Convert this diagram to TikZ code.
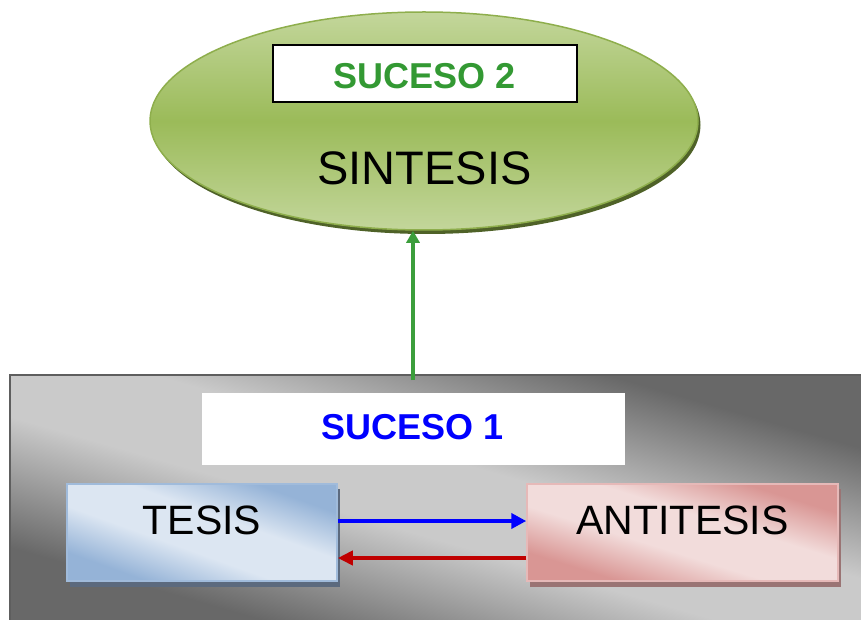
\documentclass[tikz,border=0pt]{standalone}
\usepackage{fontspec}
\setmainfont{Liberation Sans}
\usetikzlibrary{shapes.geometric,arrows.meta}
\definecolor{gdark}{HTML}{686868}
\definecolor{glight}{HTML}{CACACA}
\definecolor{eltop}{HTML}{C3D69B}
\definecolor{elmid}{HTML}{9BBB59}
\definecolor{elline}{HTML}{8EAE4C}
\definecolor{elshadow}{HTML}{4F6228}
\definecolor{bdark}{HTML}{95B3D7}
\definecolor{blight}{HTML}{DCE6F2}
\definecolor{bshadow}{HTML}{5C6A7E}
\definecolor{rdark}{HTML}{D99694}
\definecolor{rlight}{HTML}{F2DCDB}
\definecolor{rline}{HTML}{E6B9B8}
\definecolor{rshadow}{HTML}{9A7474}
\definecolor{sgreen}{HTML}{339933}
\definecolor{agreen}{HTML}{3C9E3C}
\definecolor{ared}{HTML}{C00000}
\pgfdeclareverticalshading{panelshade}{100bp}{color(0bp)=(gdark); color(25bp)=(gdark); color(44bp)=(glight); color(56bp)=(glight); color(75bp)=(gdark); color(100bp)=(gdark)}
\pgfdeclareverticalshading{blueshade}{100bp}{color(0bp)=(bdark); color(25bp)=(bdark); color(42bp)=(blight); color(58bp)=(blight); color(75bp)=(bdark); color(100bp)=(bdark)}
\pgfdeclareverticalshading{redshade}{100bp}{color(0bp)=(rdark); color(25bp)=(rdark); color(42bp)=(rlight); color(58bp)=(rlight); color(75bp)=(rdark); color(100bp)=(rdark)}
% #1 x, #2 y (top-left), #3 width, #4 height, #5 shading name
\newcommand\mydiagshade[5]{%
  \begin{scope}[transform canvas={shift={(#1,#2)}, xscale=#3/#4}]
    \shade[shading=#5, shading angle=-45] (0,0) rectangle (#4,#4);
  \end{scope}}
\begin{document}
\begin{tikzpicture}[x=1pt,y=-1pt,
  panel/.style={rectangle, inner sep=0pt, draw=gdark!90!black, line width=2pt},
  ellipsebox/.style={ellipse, inner sep=0pt, draw=elline, line width=1.5pt,
    top color=eltop, bottom color=eltop, middle color=elmid},
  whitebox/.style={rectangle, inner sep=0pt, fill=white},
  tbox/.style={rectangle, inner sep=0pt, line width=1.5pt, draw=bdark!90!white},
  abox/.style={rectangle, inner sep=0pt, line width=1.5pt, draw=rline},
  bigtxt/.style={font=\fontsize{47}{50}\selectfont, text=black, inner sep=0pt},
  boxtxt/.style={font=\fontsize{41}{44}\selectfont, text=black, inner sep=0pt},
  evtxt/.style={font=\fontsize{36}{40}\selectfont\bfseries, inner sep=0pt},
  arr/.style={line width=4pt, -{Triangle[length=15pt,width=15pt]}},
]
\useasboundingbox (0,0) rectangle (861,620);
\clip (0,0) rectangle (861,620);

% gray panel (suceso 1)
\mydiagshade{10}{375}{851}{245}{panelshade}
\node[panel, minimum width=861, minimum height=250] (panel) at (440.5,500) {};
\node[whitebox, minimum width=423, minimum height=72] (s1box) at (413.5,429) {};
\node[evtxt, text=blue] (s1txt) at (412.5,427) {SUCESO 1};

% shadows
\fill[bshadow] (70,489) rectangle (340,587);
\fill[rshadow] (530,489) rectangle (841,587);

\mydiagshade{67}{484}{270}{97}{blueshade}
\node[tbox, minimum width=270, minimum height=97] (tesis) at (202,532.5) {};
\node[boxtxt] (tesistxt) at (202,520) {TESIS};
\mydiagshade{527}{484}{311}{97}{redshade}
\node[abox, minimum width=311, minimum height=97] (anti) at (682.5,532.5) {};
\node[boxtxt] (antitxt) at (682.5,520) {ANTITESIS};

\draw[arr, blue] ([yshift=11.5pt]tesis.east) -- ([yshift=11.5pt]anti.west);
\draw[arr, ared, -{Triangle[length=15pt,width=14pt]}] ([yshift=-25.5pt]anti.west) -- ([yshift=-25.5pt]tesis.east);

% ellipse (suceso 2)
\fill[elshadow] (426.5,125) ellipse [x radius=274, y radius=109];
\node[ellipsebox, minimum width=548, minimum height=218] (sintesis) at (424,121) {};
\node[whitebox, draw=black, line width=1.2pt, minimum width=304, minimum height=57] (s2box) at (425,73.5) {};
\node[evtxt, text=sgreen] (s2txt) at (425,76) {SUCESO 2};
\node[bigtxt] (sintxt) at (424.5,168) {SINTESIS};

\coordinate (s1top) at (413,380);
\draw[line width=3.5pt, agreen, -{Triangle[length=12pt,width=13pt]}] (s1top) -- (s1top |- sintesis.south);
\end{tikzpicture}
\end{document}
